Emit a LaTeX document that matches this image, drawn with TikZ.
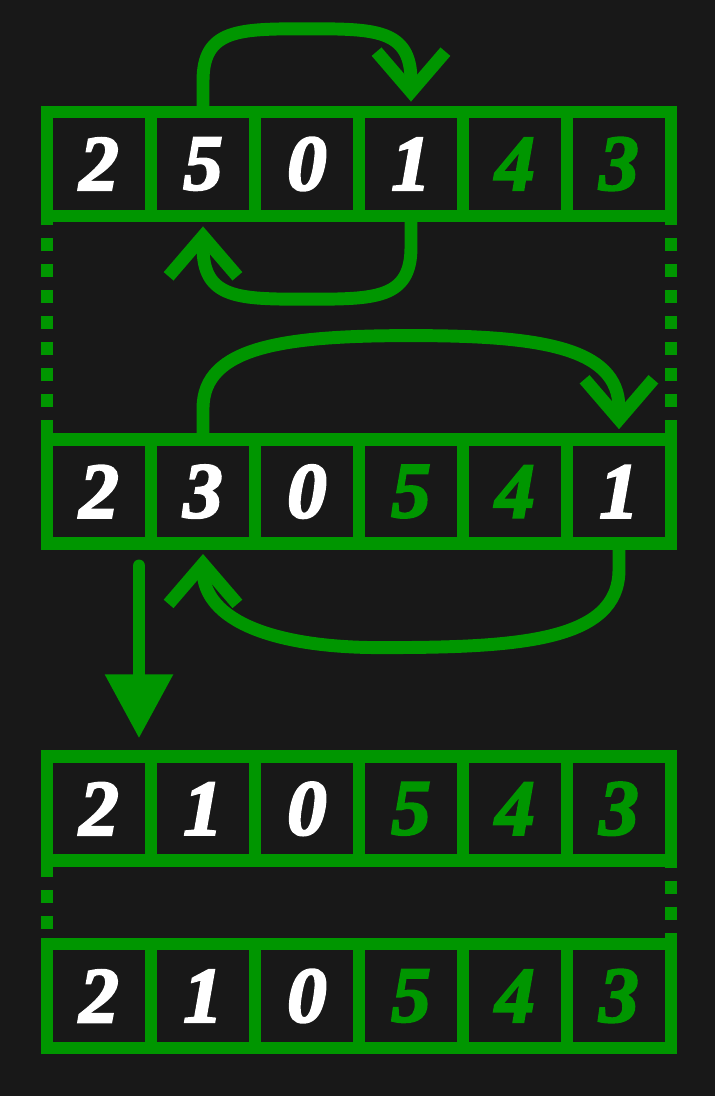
\documentclass[tikz,border=0pt]{standalone}
\usepackage{fontspec}
\newfontfamily\digfont[UprightFont={* Bold Italic},FakeBold=3]{Liberation Serif}
\usetikzlibrary{arrows.meta}
\definecolor{grn}{RGB}{0,150,0}
\definecolor{bg}{RGB}{24,24,24}
\begin{document}
\begin{tikzpicture}[x=1.3cm,y=1.3cm,
  cell/.style={draw=grn,line width=4.6pt,minimum size=1.3cm,inner sep=0,outer sep=0,
    font=\digfont\fontsize{28}{28}\selectfont},
  curl/.style={draw=grn,line width=4.6pt,-{Straight Barb[length=0.5cm,width=0.86cm]}},
  drop/.style={draw=grn,line width=4.6pt,line cap=round,-{Triangle[length=0.8cm,width=0.81cm]}},
  gapline/.style={draw=grn,line width=4.6pt,dash pattern=on 0.1625cm off 0.1625cm}]
\fill[bg] (-0.452,-0.4615) rectangle (6.423,10.077);
\foreach \r/\y/\vals in {1/8.5/{2/white,5/white,0/white,1/white,4/grn,3/grn},
  2/5.35/{2/white,3/white,0/white,5/grn,4/grn,1/white},
  3/2.3/{2/white,1/white,0/white,5/grn,4/grn,3/grn},
  4/0.5/{2/white,1/white,0/white,5/grn,4/grn,3/grn}}{
  \foreach \v/\k [count=\c] in \vals{
    \node[cell,text=\k] (r\r-\c) at (\c-.5,\y) {\v};
  }
}
\draw[gapline] ([yshift=0.052cm]r1-1.south west) -- (r2-1.north west);
\draw[gapline] ([yshift=0.052cm]r1-6.south east) -- (r2-6.north east);
\draw[gapline] ([yshift=-0.044cm]r3-1.south west) -- (r4-1.north west);
\draw[gapline] ([yshift=0.069cm]r3-6.south east) -- (r4-6.north east);
\draw[curl] (r1-2.north) -- ++(0,0.3) .. controls +(0,0.5) and +(-0.65,0) .. ++(1,0.5)
  .. controls +(0.65,0) and +(0,0.5) .. ++(1,-0.5) -- ([yshift=0.13cm]r1-4.north);
\draw[curl] (r1-4.south) -- ++(0,-0.3) .. controls +(0,-0.5) and +(0.65,0) .. ++(-1,-0.5)
  .. controls +(-0.65,0) and +(0,-0.5) .. ++(-1,0.5) -- ([yshift=-0.13cm]r1-2.south);
\draw[curl] (r2-2.north) -- ++(0,0.3) .. controls +(0,0.6) and +(-1.2,0) .. ++(2,0.7)
  .. controls +(1.2,0) and +(0,0.6) .. ++(2,-0.7) -- ([yshift=0.13cm]r2-6.north);
\draw[curl] (r2-6.south) -- ++(0,-0.25) .. controls +(0,-0.7) and +(1.3,0) .. ++(-2.3,-0.75)
  .. controls +(-1,0) and +(0,-0.5) .. ++(-1.7,0.75) -- ([yshift=-0.13cm]r2-2.south);
\draw[drop] ([shift={(0.5cm,-0.28cm)}]r2-1.south) -- ([shift={(0.5cm,0.23cm)}]r3-1.north);
\end{tikzpicture}
\end{document}
